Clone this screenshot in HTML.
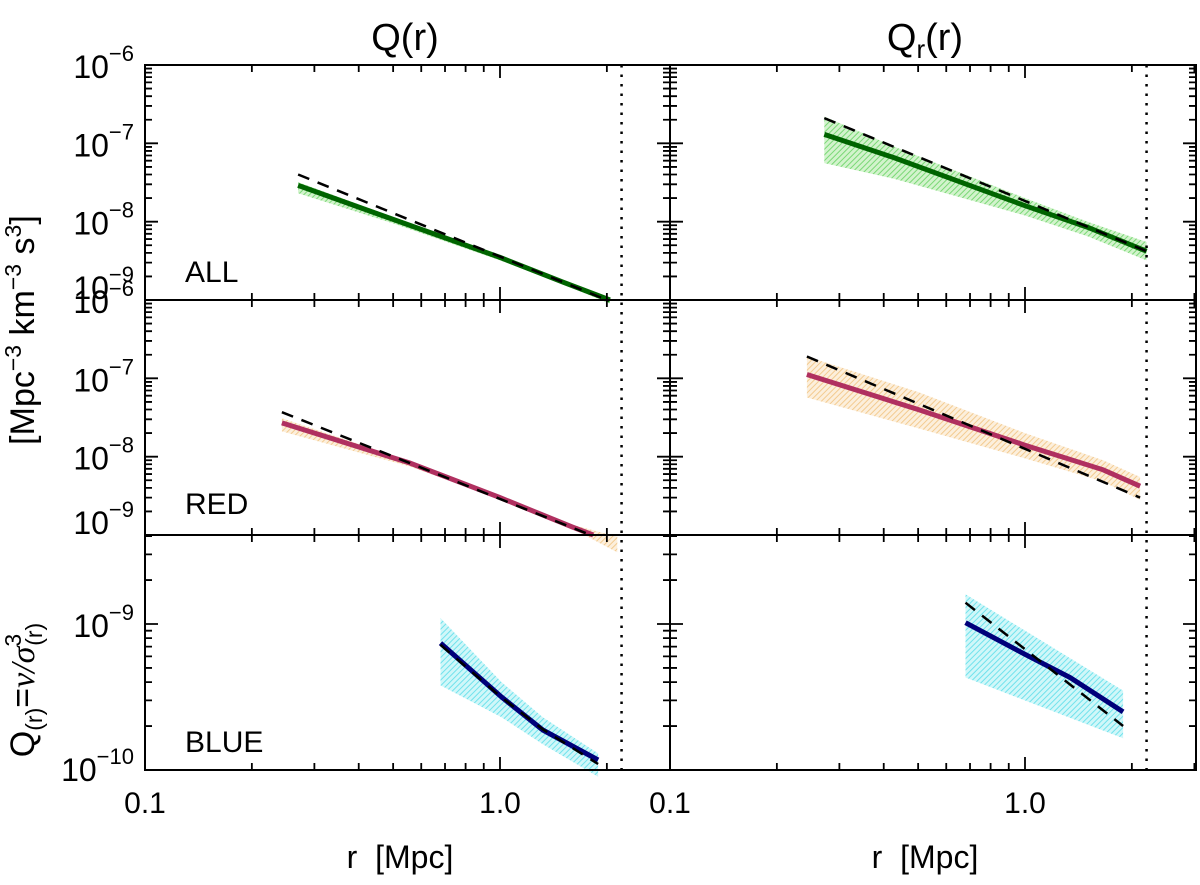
<!DOCTYPE html>
<html><head><meta charset="utf-8">
<style>
html,body{margin:0;padding:0;background:#fff;}
svg{display:block;font-family:"Liberation Sans",sans-serif;}
</style></head>
<body>
<svg id="chart" width="1200" height="885" viewBox="0 0 1200 885" xmlns="http://www.w3.org/2000/svg">
<defs>
<pattern id="hatch-green" patternUnits="userSpaceOnUse" width="4" height="4" patternTransform="rotate(45)"><rect width="4" height="4" fill="#d2f3cc"/><line x1="0" y1="0" x2="0" y2="4" stroke="#7ad876" stroke-width="2"/></pattern>
<pattern id="hatch-orange" patternUnits="userSpaceOnUse" width="4" height="4" patternTransform="rotate(45)"><rect width="4" height="4" fill="#fcefdc"/><line x1="0" y1="0" x2="0" y2="4" stroke="#f3cb90" stroke-width="2"/></pattern>
<pattern id="hatch-cyan" patternUnits="userSpaceOnUse" width="4" height="4" patternTransform="rotate(45)"><rect width="4" height="4" fill="#d0f7f9"/><line x1="0" y1="0" x2="0" y2="4" stroke="#70e2ec" stroke-width="2"/></pattern>
</defs>
<g id="layer"></g>
<text x="405" y="50" font-size="38" text-anchor="middle">Q(r)</text>
<text x="925" y="50" font-size="38" text-anchor="middle">Q<tspan font-size="26" dy="8">r</tspan><tspan dy="-8">(r)</tspan></text>
<text x="400" y="868" font-size="32" text-anchor="middle">r&#160;&#160;[Mpc]</text>
<text x="925" y="868" font-size="32" text-anchor="middle">r&#160;&#160;[Mpc]</text>
<text transform="translate(34,330) rotate(-90)" font-size="34" text-anchor="middle">[Mpc<tspan font-size="23" dy="-13">−3</tspan><tspan dy="13">&#160;km</tspan><tspan font-size="23" dy="-13">−3</tspan><tspan dy="13">&#160;s</tspan><tspan font-size="23" dy="-13">3</tspan><tspan dy="13">]</tspan></text>
<text transform="translate(34,690) rotate(-90)" font-size="34" text-anchor="middle">Q<tspan font-size="23" dy="8">(r)</tspan><tspan dy="-8">=</tspan><tspan font-style="italic" font-family="Liberation Serif, serif">ν/σ</tspan><tspan font-size="23" dy="-13">3</tspan><tspan font-size="23" dx="-12" dy="21">(r)</tspan></text>
<text x="185" y="282" font-size="30">ALL</text>
<text x="185" y="514" font-size="30">RED</text>
<text x="185" y="752" font-size="30">BLUE</text>
</svg>
<script>
// ---- data (r in Mpc, Q in Mpc^-3 km^-3 s^3) ----
const allLeftR = [0.27, 0.5, 1.0, 1.5, 2.04];
const allLeftQ = [2.9e-8, 1.07e-8, 3.5e-9, 1.7e-9, 1.0e-9];
const allLeftHi = [3.2e-8, 1.15e-8, 3.7e-9, 1.8e-9, 1.05e-9];
const allLeftLo = [2.3e-8, 9.5e-9, 3.2e-9, 1.6e-9, 0.9e-9];
const allLeftDashR = [0.27, 2.0];
const allLeftDashQ = [4.0e-8, 1.0e-9];

const allRightR = [0.272, 0.43, 1.0, 1.5, 2.2];
const allRightQ = [1.3e-7, 6.5e-8, 1.6e-8, 8.5e-9, 4.2e-9];
const allRightHi = [2.2e-7, 9.0e-8, 2.0e-8, 1.0e-8, 5.5e-9];
const allRightLo = [5.6e-8, 3.5e-8, 1.2e-8, 6.5e-9, 3.2e-9];
const allRightDashR = [0.272, 2.2];
const allRightDashQ = [2.1e-7, 4.2e-9];

const redLeftR = [0.243, 0.557, 1.0, 1.6, 1.83];
const redLeftQ = [2.7e-8, 8.3e-9, 3.0e-9, 1.26e-9, 1.0e-9];
const redLeftBandR = [0.243, 0.557, 1.0, 1.6, 2.14];
const redLeftHi = [3.1e-8, 8.8e-9, 3.1e-9, 1.35e-9, 0.95e-9];
const redLeftLo = [2.1e-8, 7.5e-9, 2.9e-9, 1.2e-9, 0.6e-9];
const redLeftDashR = [0.243, 1.75];
const redLeftDashQ = [3.7e-8, 1.05e-9];

const redRightR = [0.243, 0.5, 1.0, 1.66, 2.11];
const redRightQ = [1.12e-7, 4.0e-8, 1.4e-8, 6.8e-9, 4.2e-9];
const redRightHi = [1.9e-7, 6.7e-8, 2.0e-8, 9.0e-9, 5.5e-9];
const redRightLo = [5.7e-8, 2.3e-8, 9.5e-9, 4.8e-9, 2.8e-9];
const redRightDashR = [0.243, 2.11];
const redRightDashQ = [1.9e-7, 3.0e-9];

const blueLeftR = [0.68, 1.01, 1.32, 1.89];
const blueLeftQ = [7.4e-10, 3.16e-10, 1.88e-10, 1.17e-10];
const blueLeftHi = [1.1e-9, 4.0e-10, 2.3e-10, 1.3e-10];
const blueLeftLo = [3.8e-10, 2.3e-10, 1.5e-10, 0.9e-10];
const blueLeftDashR = [0.68, 1.0, 1.32, 1.89];
const blueLeftDashQ = [7.2e-10, 3.2e-10, 1.9e-10, 1.1e-10];

const blueRightR = [0.68, 1.0, 1.34, 1.89];
const blueRightQ = [1.02e-9, 6.2e-10, 4.3e-10, 2.5e-10];
const blueRightBandR = [0.68, 1.89];
const blueRightHi = [1.6e-9, 3.5e-10];
const blueRightLo = [4.3e-10, 1.65e-10];
const blueRightDashR = [0.68, 1.89];
const blueRightDashQ = [1.4e-9, 2.0e-10];

const xTickLabels = ["0.1", "1.0"];
const xTickValues = [0.1, 1.0];
const rMax = 2.2;

// ---- layout ----
const NS = "http://www.w3.org/2000/svg";
const layer = document.getElementById('layer');
const cols = [{l:145, r:670}, {l:670, r:1196}];
const rows = [{t:65, b:300, lo:-9, hi:-6, name:'all'}, {t:300, b:535, lo:-9, hi:-6, name:'red'}, {t:535, b:770, lo:-10, hi:-10 + 235/146, name:'blue'}];
const decX = 355;
function xs(c, r){ return cols[c].l + (Math.log10(r) + 1) * decX; }
function ys(rw, q){ const R = rows[rw]; return R.b - (Math.log10(q) - R.lo) / (R.hi - R.lo) * (R.b - R.t); }
function mk(tag, attrs){ const e = document.createElementNS(NS, tag); for (const k in attrs) e.setAttribute(k, attrs[k]); layer.appendChild(e); return e; }

function band(c, rw, rArr, hi, lo, fill, nm){
  let pts = rArr.map((r,i)=>xs(c,r).toFixed(1)+','+ys(rw,hi[i]).toFixed(1));
  for (let i = rArr.length-1; i >= 0; i--) pts.push(xs(c,rArr[i]).toFixed(1)+','+ys(rw,lo[i]).toFixed(1));
  const e = mk('polygon', {points: pts.join(' '), fill: fill});
  
  
}
function line(c, rw, rArr, qArr, color, w, dash, nm){
  const pts = rArr.map((r,i)=>xs(c,r).toFixed(1)+','+ys(rw,qArr[i]).toFixed(1)).join(' ');
  const e = mk('polyline', {points: pts, fill:'none', stroke: color, 'stroke-width': w, 'stroke-dasharray': dash || 'none'});
  
  
}

band(0,0,allLeftR,allLeftHi,allLeftLo,'url(#hatch-green)','band-all-q');
band(1,0,allRightR,allRightHi,allRightLo,'url(#hatch-green)','band-all-qr');
band(0,1,redLeftBandR,redLeftHi,redLeftLo,'url(#hatch-orange)','band-red-q');
band(1,1,redRightR,redRightHi,redRightLo,'url(#hatch-orange)','band-red-qr');
band(0,2,blueLeftR,blueLeftHi,blueLeftLo,'url(#hatch-cyan)','band-blue-q');
band(1,2,blueRightBandR,blueRightHi,blueRightLo,'url(#hatch-cyan)','band-blue-qr');
line(0,0,allLeftR,allLeftQ,'#006400',5,null,'line-all-q');
line(1,0,allRightR,allRightQ,'#006400',5,null,'line-all-qr');
line(0,1,redLeftR,redLeftQ,'#b03060',5,null,'line-red-q');
line(1,1,redRightR,redRightQ,'#b03060',5,null,'line-red-qr');
line(0,2,blueLeftR,blueLeftQ,'#00007a',5,null,'line-blue-q');
line(1,2,blueRightR,blueRightQ,'#00007a',5,null,'line-blue-qr');
line(0,0,allLeftDashR,allLeftDashQ,'#000',2.5,'12 9','fit-all-q');
line(1,0,allRightDashR,allRightDashQ,'#000',2.5,'12 9','fit-all-qr');
line(0,1,redLeftDashR,redLeftDashQ,'#000',2.5,'12 9','fit-red-q');
line(1,1,redRightDashR,redRightDashQ,'#000',2.5,'12 9','fit-red-qr');
line(0,2,blueLeftDashR,blueLeftDashQ,'#000',2.5,'12 9','fit-blue-q');
line(1,2,blueRightDashR,blueRightDashQ,'#000',2.5,'12 9','fit-blue-qr');

for (let c = 0; c < 2; c++){
  const x = xs(c, rMax);
  const e = mk('line', {x1:x, x2:x, y1:65, y2:770, stroke:'#000', 'stroke-width':2.5, 'stroke-dasharray':'2.5 7'});
  
  
}

for (let c = 0; c < 2; c++){
  for (let rw = 0; rw < 3; rw++){
    const C = cols[c], R = rows[rw];
    const f = mk('rect', {x:C.l, y:R.t, width:C.r-C.l, height:R.b-R.t, fill:'none', stroke:'#000', 'stroke-width':2});
    
    
    let d = '';
    for (let e = Math.floor(R.lo); e <= Math.ceil(R.hi); e++){
      for (let m = 1; m <= 9; m++){
        const lv = e + Math.log10(m);
        if (lv < R.lo - 1e-6 || lv > R.hi + 1e-6) continue;
        const y = ys(rw, Math.pow(10, lv));
        const L = m === 1 ? 13 : 7;
        d += `M${C.l},${y}h${L}M${C.r},${y}h${-L}`;
      }
    }
    for (let e = -1; e <= 0; e++){
      for (let m = 1; m <= 9; m++){
        const r = m * Math.pow(10, e);
        const x = xs(c, r);
        if (x > C.r - 1) continue;
        const L = m === 1 ? 13 : 7;
        d += `M${x},${R.b}v${-L}M${x},${R.t}v${L}`;
      }
    }
    const t = mk('path', {d:d, stroke:'#000', 'stroke-width':1.8, fill:'none'});
    
    
  }
  for (let i = 0; i < xTickValues.length; i++){
    const tx = mk('text', {x: xs(c, xTickValues[i]), y: 813, 'font-size': 30, 'text-anchor':'middle'});
    tx.textContent = xTickLabels[i];
    
    
  }
}
for (let rw = 0; rw < 3; rw++){
  const R = rows[rw];
  for (let e = Math.ceil(R.lo); e <= Math.floor(R.hi); e++){
    let y = ys(rw, Math.pow(10, e));
    if (e === R.lo && rw < 2) y -= 14;
    if (rw === 2 && e === R.lo) y -= 2;
    const tx = mk('text', {x: 134, y: y + 13, 'font-size': 32, 'text-anchor':'end'});
    tx.innerHTML = '10<tspan font-size="22" dy="-17">−' + (-e) + '</tspan>';
    
    
  }
}
</script>
</body></html>
